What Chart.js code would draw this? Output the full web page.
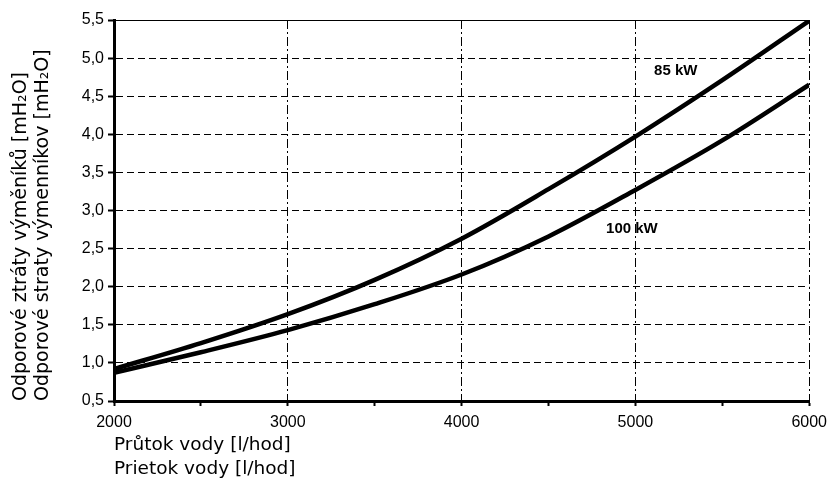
<!DOCTYPE html>
<html>
<head>
<meta charset="utf-8">
<style>
html,body{margin:0;padding:0;background:#fff;}
#wrap{width:834px;height:481px;position:relative;}
</style>
<script src="https://cdn.jsdelivr.net/npm/chart.js@4.4.1/dist/chart.umd.min.js"></script>
</head>
<body>
<div id="wrap"><canvas id="c"></canvas></div>
<script>
// ---- data ----
const flowValues = [2000, 2500, 3000, 3500, 4000, 4500, 5000, 5500, 6000];
const loss85kW  = [0.92, 1.26, 1.64, 2.09, 2.63, 3.28, 3.97, 4.71, 5.49];
const loss100kW = [0.87, 1.14, 1.43, 1.77, 2.16, 2.66, 3.27, 3.92, 4.65];
const seriesNames = ['85 kW', '100 kW'];
const labelAnchorX = [5232, 4980];
const labelAnchorY = [4.83, 2.76];
const yTitle = ['Odporové ztráty výměníků [mH\u2082O]', 'Odporové straty výmenníkov [mH\u2082O]'];
const xTitle = ['Průtok vody [l/hod]', 'Prietok vody [l/hod]'];
const xMin = 2000, xMax = 6000, xStep = 500, xLabelStep = 1000;
const yMin = 0.5, yMax = 5.5, yStep = 0.5;

const toPoints = (xs, ys) => xs.map((v, i) => ({x: v, y: ys[i]}));

const curveLabels = {
  id: 'curveLabels',
  afterDatasetsDraw(chart) {
    const {ctx, scales: {x, y}} = chart;
    ctx.save();
    ctx.font = 'bold 15px "Liberation Sans", Arial, sans-serif';
    ctx.fillStyle = '#000';
    ctx.textAlign = 'center';
    ctx.textBaseline = 'middle';
    seriesNames.forEach((n, i) => {
      ctx.fillText(n, x.getPixelForValue(labelAnchorX[i]), y.getPixelForValue(labelAnchorY[i]));
    });
    ctx.restore();
  }
};

const tickFont = {family: '"Liberation Sans", Arial, sans-serif', size: 16};

new Chart(document.getElementById('c'), {
  type: 'line',
  data: {
    datasets: [
      {label: seriesNames[0], data: toPoints(flowValues, loss85kW), borderColor: '#000', borderWidth: 4.5,
       pointRadius: 0, cubicInterpolationMode: 'monotone', fill: false},
      {label: seriesNames[1], data: toPoints(flowValues, loss100kW), borderColor: '#000', borderWidth: 4.5,
       pointRadius: 0, cubicInterpolationMode: 'monotone', fill: false}
    ]
  },
  options: {
    responsive: true,
    maintainAspectRatio: false,
    animation: false,
    layout: {padding: {top: 20, right: 20, bottom: 0, left: 0}},
    plugins: {legend: {display: false}, tooltip: {enabled: false}},
    scales: {
      x: {
        type: 'linear', min: xMin, max: xMax,
        ticks: {stepSize: xStep, autoSkip: false, maxRotation: 0, padding: 7, color: '#000', font: tickFont,
                callback: v => (v % xLabelStep === 0 ? String(v) : '')},
        grid: {color: c => (c.tick && c.tick.value % xLabelStep === 0) ? '#000' : 'rgba(0,0,0,0)',
               lineWidth: 1, tickColor: '#000', tickWidth: 2, tickLength: 5},
        border: {display: true, color: '#000', width: 3, dash: [9, 3, 2, 3]},
        title: {display: true, text: xTitle, align: 'start', color: '#000',
                font: {family: '"DejaVu Sans", sans-serif', size: 18.5, lineHeight: 24 / 18.5},
                padding: {top: 0, bottom: 0}},
        afterFit: s => { s.height = 80; }
      },
      x2: {
        type: 'linear', position: 'top', min: xMin, max: xMax,
        ticks: {display: false},
        grid: {display: false, drawTicks: false},
        border: {display: true, color: '#000', width: 1}
      },
      y: {
        min: yMin, max: yMax,
        ticks: {stepSize: yStep, padding: 4, color: '#000', font: tickFont,
                callback: v => Number(v).toFixed(1).replace('.', ',')},
        grid: {color: c => (c.tick && c.tick.value >= yMax) ? 'rgba(0,0,0,0)' : '#000',
               lineWidth: 1, tickColor: '#000', tickWidth: 2, tickLength: 6},
        border: {display: true, color: '#000', width: 3, dash: [7, 4]},
        title: {display: true, text: yTitle, align: 'start', color: '#000',
                font: {family: '"DejaVu Sans", sans-serif', size: 19, lineHeight: 22 / 19},
                padding: {top: 10, bottom: 0}},
        afterFit: s => { s.width = 114; }
      }
    }
  },
  plugins: [curveLabels]
});
</script>
</body>
</html>
